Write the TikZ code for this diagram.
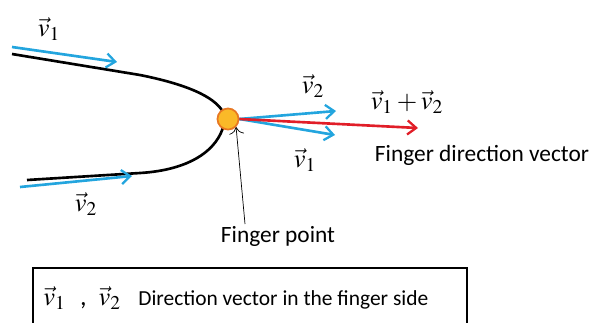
\documentclass[tikz,border=0pt]{standalone}
\usepackage{mathptmx}
\usepackage{fontspec}
\setmainfont{Carlito}
\usepackage{tikz}
\usetikzlibrary{arrows.meta,positioning,calc}
\definecolor{vecblue}{RGB}{35,165,222}
\definecolor{vecred}{RGB}{225,30,40}
\definecolor{ptfill}{RGB}{250,185,40}
\definecolor{ptdraw}{RGB}{232,120,35}

\begin{document}
\begin{tikzpicture}[
    x=0.02cm, y=-0.02cm,
    outline/.style={line width=1.5pt, draw=black},
    vecarrow/.style={-{Straight Barb[length=5pt, width=8pt, line width=1.3pt]}, line width=1.5pt, draw=vecblue},
    sumarrow/.style={-{Straight Barb[length=5pt, width=8pt, line width=1.3pt]}, line width=1.5pt, draw=vecred},
    fpoint/.style={circle, draw=ptdraw, fill=ptfill, line width=1pt, minimum size=12pt, inner sep=0pt},
    vlabel/.style={font=\fontsize{15}{17}\selectfont, inner sep=0pt},
    txt/.style={font=\fontsize{13.3}{15}\selectfont, inner sep=0pt}
]
    \useasboundingbox (0,0) rectangle (590,322);

    % finger outline
    \coordinate (top0) at (12,54);
    \coordinate (bot0) at (27,180);
    \coordinate (tip1) at (224,114);
    \coordinate (tip2) at (224,124);
    \draw [outline] (top0) -- (140,75) .. controls (195,86) and (218,100) .. (tip1);
    \draw [outline] (tip2) .. controls (218,150) and (190,170) .. (140,173) -- (bot0);
    \node [fpoint] (fp) at (228,119) {};

    % side vectors
    \coordinate (a1s) at (12,47);
    \coordinate (a1e) at (117,62);
    \coordinate (a2s) at (20,187);
    \coordinate (a2e) at (132,176);
    \draw [vecarrow] (a1s) -- (a1e);
    \draw [vecarrow] (a2s) -- (a2e);
    \node [vlabel] (l1) at (49,29) {$\vec{v}_1$};
    \node [vlabel] (l2) at (86,204) {$\vec{v}_2$};

    % vectors at the finger point
    \coordinate (e2) at (336,111);
    \coordinate (e1) at (335,135);
    \coordinate (es) at (418,128);
    \draw [vecarrow] (fp.east) -- (e2);
    \draw [vecarrow] (fp.east) -- (e1);
    \draw [sumarrow] (fp.east) -- (es);
    \node [vlabel] (r2) at (313,86) {$\vec{v}_2$};
    \node [vlabel] (r1) at (305,160) {$\vec{v}_1$};
    \node [vlabel] (rs) at (407,102) {$\vec{v}_1+\vec{v}_2$};
    \node [txt] (dir) at (482,155) {Finger direction vector};

    % finger point label
    \node [txt] (fpt) at (278,236) {Finger point};
    \coordinate (ps) at (245,224);
    \draw [-{To[length=4pt]}, line width=0.4pt] (ps) -- (fp.south east);

    % legend box
    \draw [line width=1.1pt] (33,268) rectangle (467,340);
    \node [vlabel, anchor=west] (lg) at (43,298) {$\vec{v}_1$\hspace{0.55em},\hspace{0.45em}$\vec{v}_2$};
    \node [txt, anchor=west, font=\fontsize{12.2}{14}\selectfont] (lgt) at (138,300) {Direction vector in the finger side};
\end{tikzpicture}
\end{document}
